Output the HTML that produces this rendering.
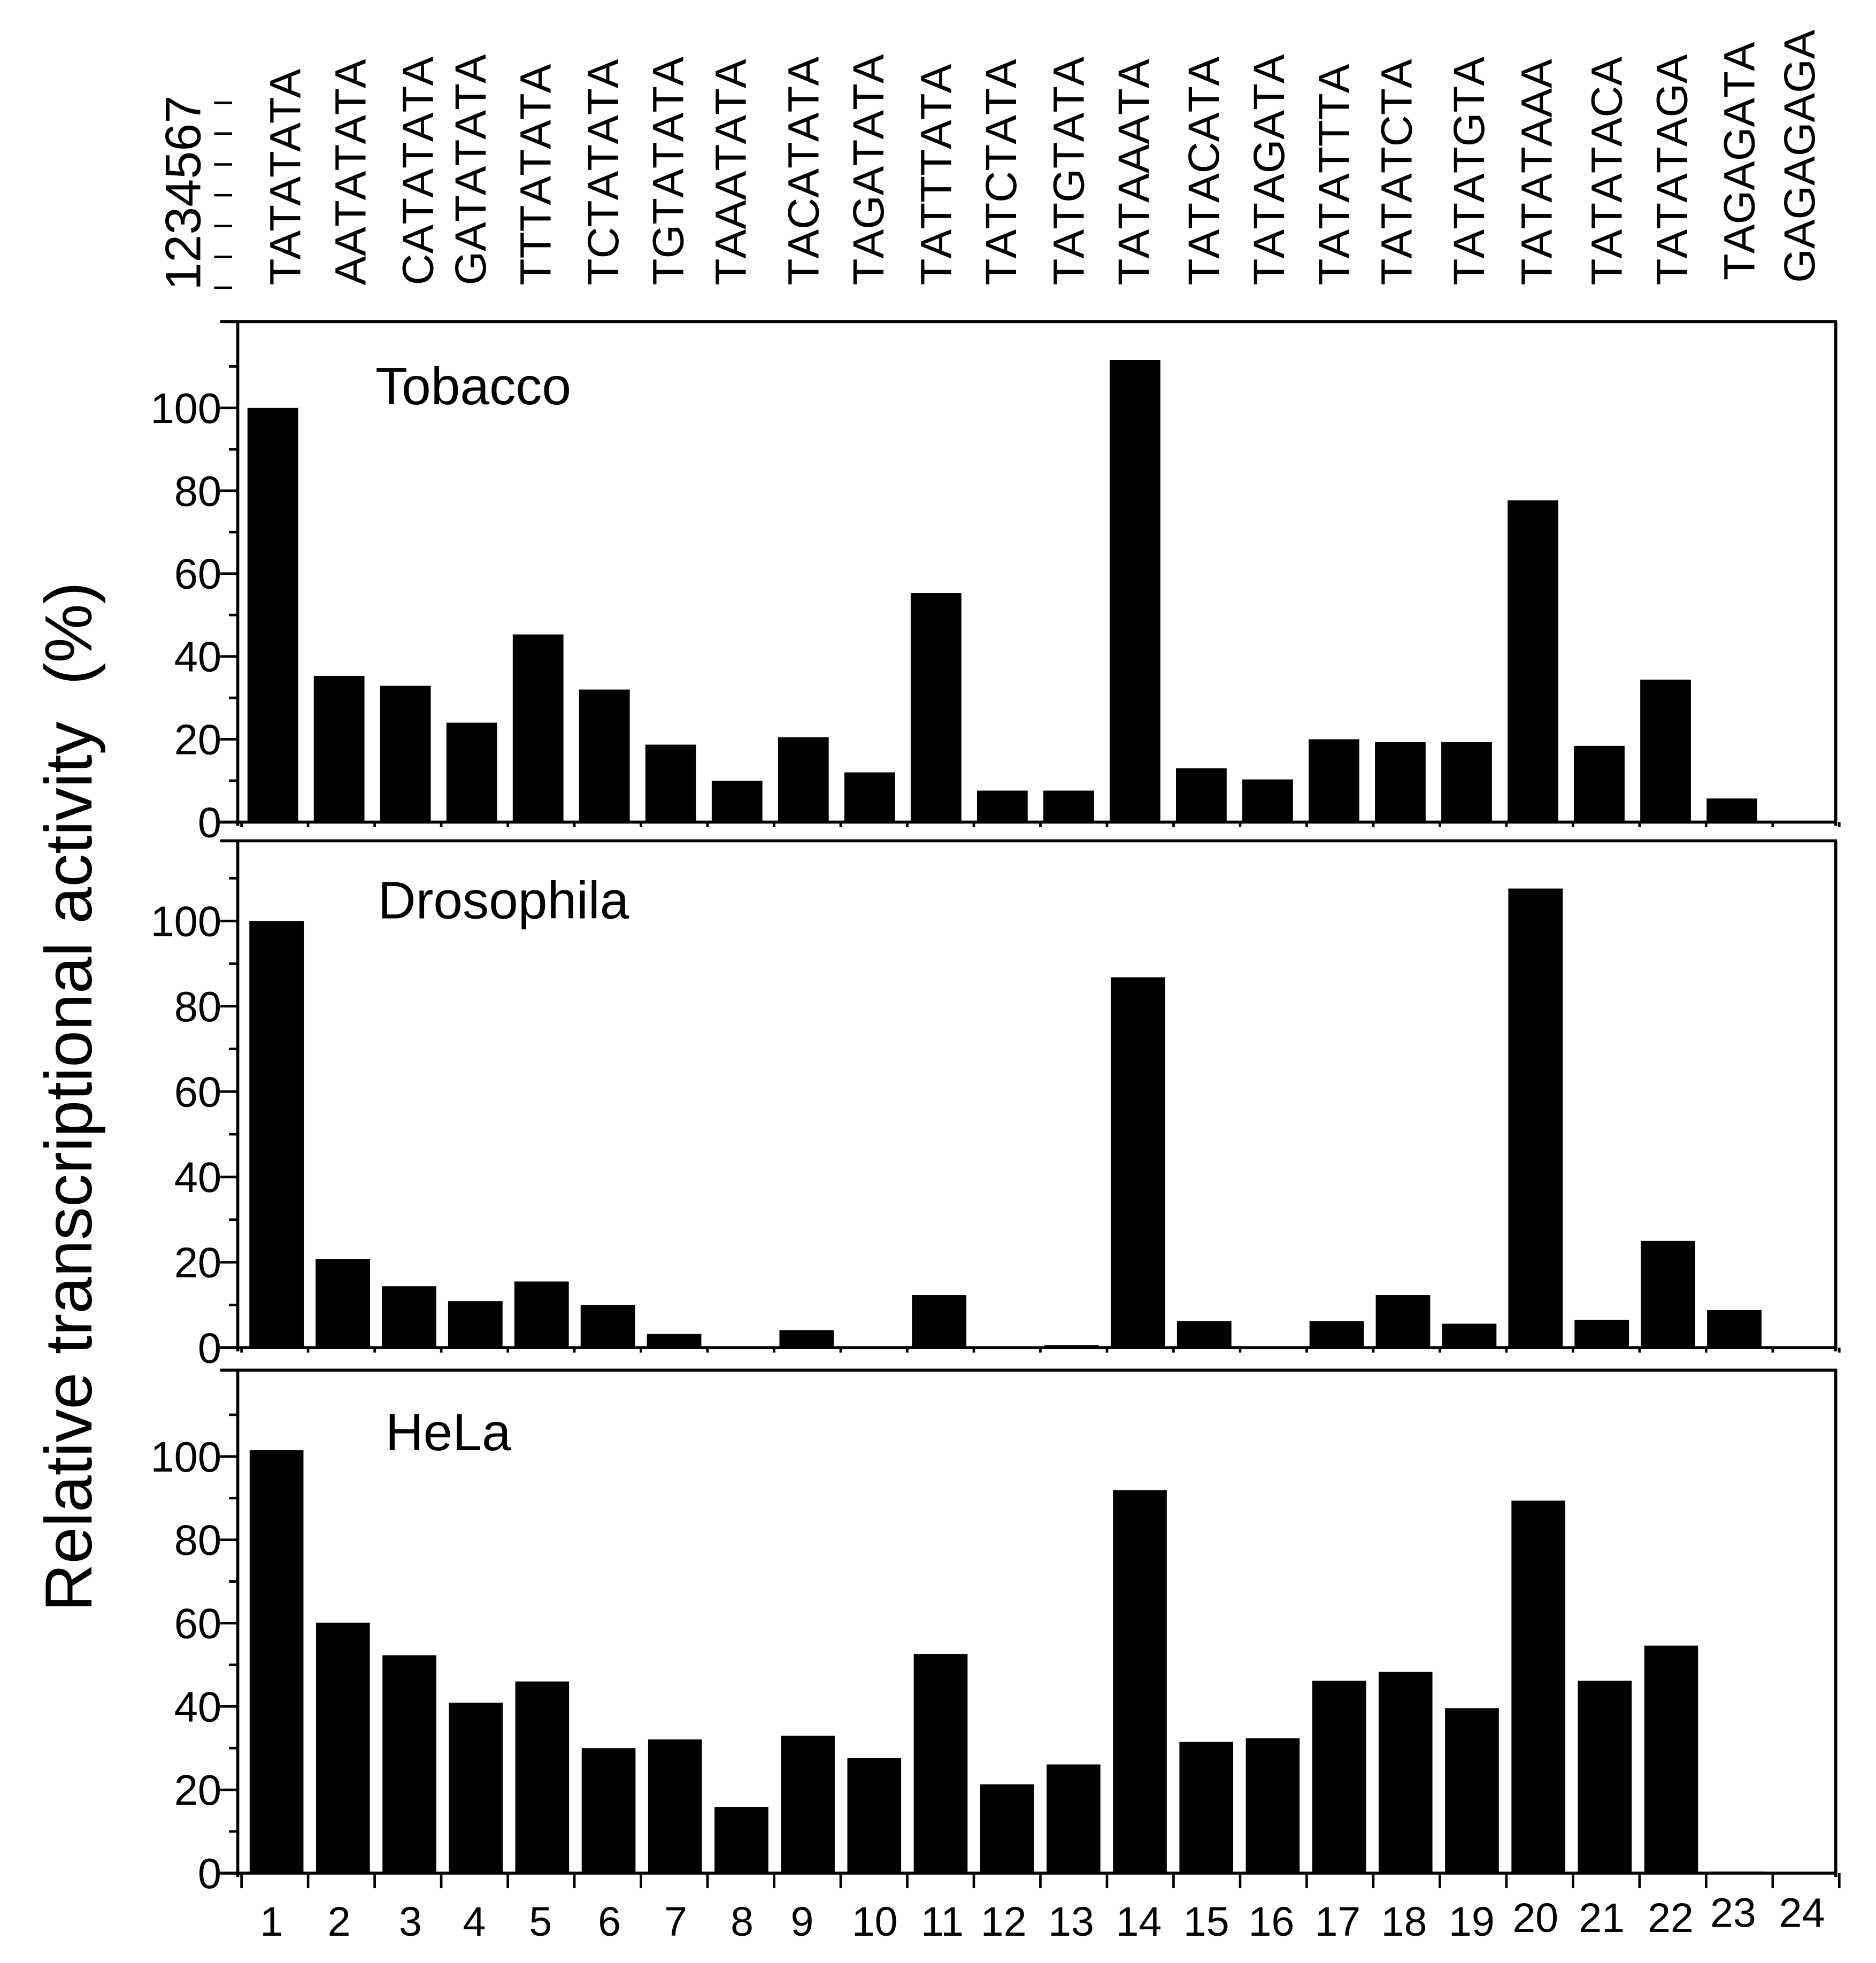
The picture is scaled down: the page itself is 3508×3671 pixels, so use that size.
<!DOCTYPE html>
<html lang="en">
<head>
<meta charset="utf-8">
<title>Relative transcriptional activity of TATA variants</title>
<style>
html,body{margin:0;padding:0;background:#fff;}
svg{display:block;}
text{font-family:"Liberation Sans",sans-serif;fill:#000;}
.seq{font-size:35px;font-kerning:none;}
.ytick{font-size:34px;text-anchor:end;}
.xtick{font-size:33px;text-anchor:middle;}
.panel-title{font-size:42px;}
</style>
</head>
<body>
<svg id="chart" xmlns="http://www.w3.org/2000/svg" width="3508" height="3671" viewBox="0 0 1499.15 1568.8">
  <g>
    <text class="seq" transform="translate(160,232) rotate(-90)" style="font-size:40px">1234567</text>
    <text transform="translate(182,232) rotate(-90)" textLength="152" style="font-size:15px;font-weight:bold">| | | | | | |</text>
    <text class="seq" transform="translate(240,228) rotate(-90)" textLength="173">TATATATA</text>
    <text class="seq" transform="translate(292,228) rotate(-90)">AATATATA</text>
    <text class="seq" transform="translate(346,228) rotate(-90)">CATATATA</text>
    <text class="seq" transform="translate(388,228) rotate(-90)">GATATATA</text>
    <text class="seq" transform="translate(440,228) rotate(-90)">TTTATATA</text>
    <text class="seq" transform="translate(494,228) rotate(-90)">TCTATATA</text>
    <text class="seq" transform="translate(546,228) rotate(-90)">TGTATATA</text>
    <text class="seq" transform="translate(596,228) rotate(-90)">TAAATATA</text>
    <text class="seq" transform="translate(654,228) rotate(-90)">TACATATA</text>
    <text class="seq" transform="translate(706,228) rotate(-90)">TAGATATA</text>
    <text class="seq" transform="translate(760,228) rotate(-90)">TATTTATA</text>
    <text class="seq" transform="translate(812,228) rotate(-90)">TATCTATA</text>
    <text class="seq" transform="translate(866,228) rotate(-90)">TATGTATA</text>
    <text class="seq" transform="translate(918,228) rotate(-90)">TATAAATA</text>
    <text class="seq" transform="translate(974,228) rotate(-90)">TATACATA</text>
    <text class="seq" transform="translate(1026,228) rotate(-90)">TATAGATA</text>
    <text class="seq" transform="translate(1078,228) rotate(-90)">TATATTTA</text>
    <text class="seq" transform="translate(1128,228) rotate(-90)">TATATCTA</text>
    <text class="seq" transform="translate(1186,228) rotate(-90)">TATATGTA</text>
    <text class="seq" transform="translate(1240,228) rotate(-90)">TATATAAA</text>
    <text class="seq" transform="translate(1296,228) rotate(-90)">TATATACA</text>
    <text class="seq" transform="translate(1348,228) rotate(-90)">TATATAGA</text>
    <text class="seq" transform="translate(1402,224) rotate(-90)">TAGAGATA</text>
    <text class="seq" transform="translate(1450,226) rotate(-90)">GAGAGAGA</text>
  </g>
  <text transform="translate(73,1288) rotate(-90)" textLength="823" xml:space="preserve" style="font-size:53px">Relative transcriptional activity  (%)</text>
  <g id="panels"></g>
  <g>
    <text class="xtick" x="217" y="1547">1</text>
    <text class="xtick" x="271" y="1547">2</text>
    <text class="xtick" x="328" y="1547">3</text>
    <text class="xtick" x="379" y="1547">4</text>
    <text class="xtick" x="432" y="1547">5</text>
    <text class="xtick" x="487" y="1547">6</text>
    <text class="xtick" x="540" y="1547">7</text>
    <text class="xtick" x="593" y="1547">8</text>
    <text class="xtick" x="641" y="1547">9</text>
    <text class="xtick" x="699" y="1547">10</text>
    <text class="xtick" x="753" y="1547">11</text>
    <text class="xtick" x="802" y="1547">12</text>
    <text class="xtick" x="856" y="1547">13</text>
    <text class="xtick" x="910" y="1547">14</text>
    <text class="xtick" x="964" y="1547">15</text>
    <text class="xtick" x="1016" y="1547">16</text>
    <text class="xtick" x="1069" y="1547">17</text>
    <text class="xtick" x="1122" y="1547">18</text>
    <text class="xtick" x="1176" y="1547">19</text>
    <text class="xtick" x="1227" y="1544">20</text>
    <text class="xtick" x="1280" y="1544">21</text>
    <text class="xtick" x="1335" y="1544">22</text>
    <text class="xtick" x="1385" y="1540">23</text>
    <text class="xtick" x="1440" y="1540">24</text>
  </g>
</svg>
<script>
const categories = [1,2,3,4,5,6,7,8,9,10,11,12,13,14,15,16,17,18,19,20,21,22,23,24];
const tobaccoValues = [100,35.3,32.9,24,45.3,32,18.7,10,20.5,12,55.3,7.6,7.6,111.6,13,10.3,20,19.3,19.3,77.7,18.4,34.4,5.7,0.2];
const drosophilaValues = [100,20.8,14.4,10.9,15.5,10,3.2,0.3,4.1,0.3,12.3,0.3,0.6,86.8,6.2,0.3,6.2,12.3,5.6,107.6,6.5,25,8.8,0.2];
const helaValues = [101.5,60.1,52.3,40.9,46,30,32.1,15.9,33,27.6,52.6,21.3,26.1,91.9,31.5,32.4,46.2,48.3,39.6,89.4,46.2,54.6,0.4,0.3];
const yTickValues = [0,20,40,60,80,100];
const yMinorValues = [10,30,50,70,90,110];

const SVG_NS = 'http://www.w3.org/2000/svg';
const panelsRoot = document.getElementById('panels');

function line(parent, x1, y1, x2, y2, w) {
  const el = document.createElementNS(SVG_NS, 'line');
  el.setAttribute('x1', x1);
  el.setAttribute('y1', y1);
  el.setAttribute('x2', x2);
  el.setAttribute('y2', y2);
  el.setAttribute('stroke', '#000');
  el.setAttribute('stroke-width', w);
  parent.appendChild(el);
  return el;
}

function drawPanel(opts) {
  const g = document.createElementNS(SVG_NS, 'g');
  
  
  panelsRoot.appendChild(g);

  const yScale = function (v) { return opts.zeroY - v * opts.unit; };
  const xScale = function (i) { return opts.firstCenter + i * opts.step; };
  const left = 190, right = 1467;

  categories.forEach(function (cat, i) {
    const v = opts.values[i];
    const rect = document.createElementNS(SVG_NS, 'rect');
    rect.setAttribute('x', xScale(i) - opts.barWidth / 2);
    rect.setAttribute('y', yScale(v));
    rect.setAttribute('width', opts.barWidth);
    rect.setAttribute('height', opts.zeroY - yScale(v));
    rect.setAttribute('fill', '#000');
    
    
    g.appendChild(rect);
  });

  const topLine = line(g, 176, opts.topY, right + 1, opts.topY, 2.4);
  
  
  const leftLine = line(g, left, opts.topY, left, opts.zeroY + 3, 2.4);
  
  
  const rightLine = line(g, right, opts.topY, right, opts.zeroY + 3, 2.4);
  
  
  const baseLine = line(g, 176, opts.zeroY, right, opts.zeroY, 2.4);
  
  

  yTickValues.forEach(function (v) {
    const y = yScale(v);
    const tick = line(g, 176, y, left, y, 2);
    
    
    const label = document.createElementNS(SVG_NS, 'text');
    label.setAttribute('class', 'ytick');
    label.setAttribute('x', 177);
    label.setAttribute('y', y + 12);
    label.textContent = v;
    
    
    g.appendChild(label);
  });
  yMinorValues.forEach(function (v) {
    const y = yScale(v);
    const tick = line(g, 183, y, left, y, 2);
    
    
  });

  for (let k = 0; k <= 24; k++) {
    const x = 193 + k * 53.2;
    const tick = line(g, x, opts.zeroY, x, opts.zeroY + opts.xTickLen, 2);
    
    
  }

  const title = document.createElementNS(SVG_NS, 'text');
  title.setAttribute('class', 'panel-title');
  title.setAttribute('x', opts.titleX);
  title.setAttribute('y', opts.titleY);
  title.textContent = opts.title;
  
  
  g.appendChild(title);
}

drawPanel({name:'tobacco', title:'Tobacco', titleX:300, titleY:323, values:tobaccoValues, topY:257, zeroY:657, unit:3.31, firstCenter:218, step:53, barWidth:40.5, xTickLen:4});
drawPanel({name:'drosophila', title:'Drosophila', titleX:302, titleY:734, values:drosophilaValues, topY:672, zeroY:1077, unit:3.41, firstCenter:221, step:52.95, barWidth:43.5, xTickLen:4});
drawPanel({name:'hela', title:'HeLa', titleX:308, titleY:1159, values:helaValues, topY:1095, zeroY:1497, unit:3.33, firstCenter:221, step:53.07, barWidth:43, xTickLen:12});
</script>
</body>
</html>
